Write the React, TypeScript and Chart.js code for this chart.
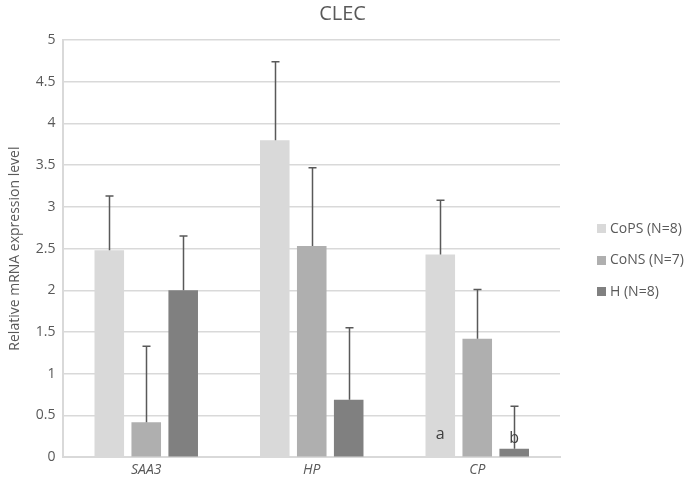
import React, { useEffect, useRef } from "react";
import { Chart, registerables } from "chart.js";

Chart.register(...registerables);

const titleText = "CLEC";
const categories = ["SAA3", "HP", "CP"];
const seriesNames = ["CoPS (N=8)", "CoNS (N=7)", "H (N=8)"];
const copsValues = [2.48, 3.8, 2.43];
const consValues = [0.42, 2.53, 1.42];
const hValues = [2.0, 0.69, 0.1];
const copsErrors = [0.65, 0.94, 0.65];
const consErrors = [0.91, 0.94, 0.59];
const hErrors = [0.65, 0.86, 0.51];
const yTicks = [0, 0.5, 1, 1.5, 2, 2.5, 3, 3.5, 4, 4.5, 5];
const annotations = [
  { series: 0, category: 2, label: "a", value: 0.27 },
  { series: 2, category: 2, label: "b", value: 0.22 },
];

const colors = ["#d9d9d9", "#afafaf", "#808080"];
const errorsBySeries = [copsErrors, consErrors, hErrors];
const FONT = "'Open Sans', 'Noto Sans', sans-serif";

const errorBarPlugin = {
  id: "errorBars",
  afterDatasetsDraw(chart: any) {
    const ctx = chart.ctx;
    const y = chart.scales.y;
    ctx.save();
    ctx.strokeStyle = "#595959";
    ctx.lineWidth = 1.5;
    chart.data.datasets.forEach((ds: any, di: number) => {
      const meta = chart.getDatasetMeta(di);
      meta.data.forEach((bar: any, i: number) => {
        const v = ds.data[i];
        const top = y.getPixelForValue(v + errorsBySeries[di][i]);
        const base = y.getPixelForValue(v);
        const x = Math.round(bar.x) + 0.5;
        ctx.beginPath();
        ctx.moveTo(x, base);
        ctx.lineTo(x, top);
        ctx.moveTo(x - 4, top);
        ctx.lineTo(x + 4, top);
        ctx.stroke();
      });
    });
    ctx.fillStyle = "#404040";
    ctx.font = "16px " + FONT;
    ctx.textAlign = "center";
    ctx.textBaseline = "middle";
    annotations.forEach((a) => {
      const bar = chart.getDatasetMeta(a.series).data[a.category];
      ctx.fillText(a.label, bar.x, y.getPixelForValue(a.value));
    });
    ctx.restore();
  },
};

const sideLegendPlugin = {
  id: "sideLegend",
  afterDraw(chart: any) {
    const ctx = chart.ctx;
    const area = chart.chartArea;
    const x0 = area.right + 37;
    const rowGap = 31.5;
    const mid = chart.height * 0.54;
    const n = chart.data.datasets.length;
    ctx.save();
    ctx.font = "14px " + FONT;
    ctx.textBaseline = "middle";
    ctx.textAlign = "left";
    chart.data.datasets.forEach((ds: any, i: number) => {
      const cy = mid + (i - (n - 1) / 2) * rowGap;
      ctx.fillStyle = ds.backgroundColor;
      ctx.fillRect(x0, Math.round(cy - 4.5), 9, 9);
      ctx.fillStyle = "#595959";
      ctx.fillText(ds.label, x0 + 13, cy);
    });
    // title centred on the whole canvas
    ctx.font = "20px " + FONT;
    ctx.textAlign = "center";
    ctx.fillText(titleText, chart.width / 2, 14);
    ctx.restore();
  },
};

export default function App() {
  const ref = useRef<HTMLCanvasElement>(null);
  useEffect(() => {
    document.body.style.margin = "0";
    const values = [copsValues, consValues, hValues];
    const chart = new Chart(ref.current!, {
      type: "bar",
      data: {
        labels: categories,
        datasets: seriesNames.map((name, i) => ({
          label: name,
          data: values[i],
          backgroundColor: colors[i],
          borderWidth: 0,
          barPercentage: 0.8,
          categoryPercentage: 0.67,
        })),
      },
      options: {
        animation: false,
        responsive: false,
        maintainAspectRatio: false,
        layout: { padding: { left: 5, right: 125, top: 40, bottom: 0 } },
        plugins: {
          title: { display: false },
          legend: { display: false },
          tooltip: { enabled: false },
        },
        scales: {
          x: {
            grid: { display: false, drawTicks: false },
            border: { display: true, color: "#d9d9d9", width: 2 },
            ticks: {
              color: "#595959",
              padding: 4,
              font: { size: 14, style: "italic", family: FONT },
            },
          },
          y: {
            min: 0,
            max: 5,
            afterBuildTicks: (axis: any) => {
              axis.ticks = yTicks.map((v) => ({ value: v }));
            },
            grid: { color: "#d9d9d9", lineWidth: 1.5, drawTicks: false },
            border: { display: true, color: "#d9d9d9", width: 2 },
            ticks: {
              color: "#595959",
              padding: 8,
              font: { size: 14, family: FONT },
              callback: (v: any) => String(v),
            },
            title: {
              display: true,
              text: "Relative mRNA expression level",
              color: "#595959",
              font: { size: 14, family: FONT },
              padding: { top: 2, bottom: 4 },
            },
          },
        },
      },
      plugins: [errorBarPlugin, sideLegendPlugin],
    } as any);
    return () => chart.destroy();
  }, []);
  return (
    <div style={{ width: 685, height: 482 }}>
      <canvas ref={ref} width={685} height={482} style={{ width: 685, height: 482 }} />
    </div>
  );
}
